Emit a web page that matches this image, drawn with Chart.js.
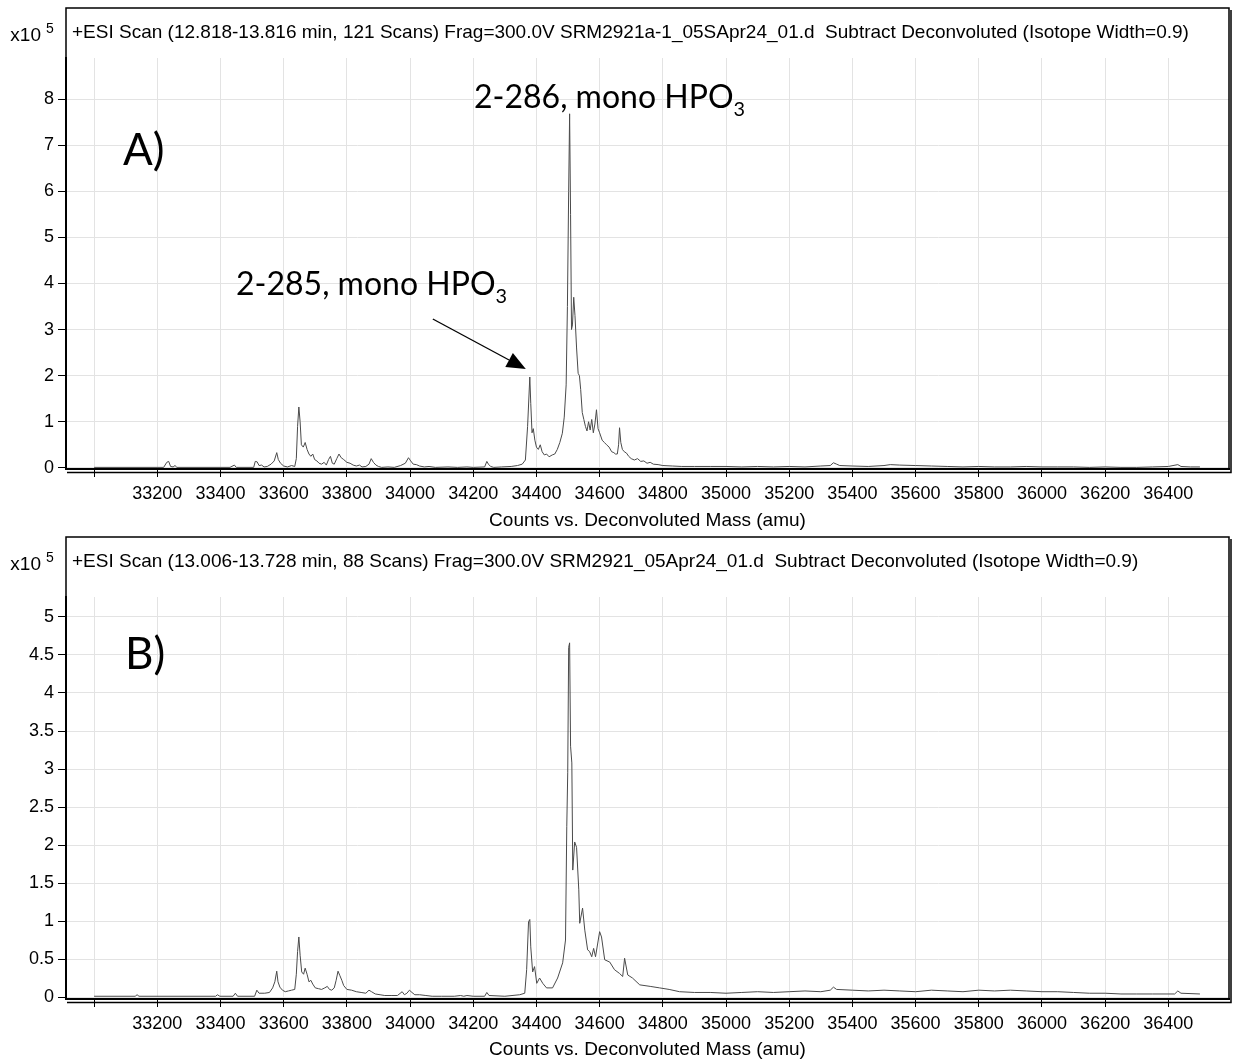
<!DOCTYPE html>
<html><head><meta charset="utf-8">
<script src="https://cdn.jsdelivr.net/npm/chart.js@4.4.1/dist/chart.umd.min.js"></script>
<style>
html,body{margin:0;padding:0;background:#fff;}
#wrap{position:relative;width:1233px;height:1062px;overflow:hidden;}
canvas{position:absolute;left:0;}
.ann{position:absolute;font-family:Lato,"Open Sans",sans-serif;color:#000;white-space:nowrap;line-height:1;}
.ann sub{font-size:0.62em;vertical-align:-0.38em;line-height:0;}
</style></head>
<body><div id="wrap">
<canvas id="cA" width="1233" height="530" style="top:0;width:1233px;height:530px"></canvas>
<canvas id="cB" width="1233" height="532" style="top:530px;width:1233px;height:532px"></canvas>
<div class="ann" style="left:123px;top:126px;font-size:44px;">A)</div>
<div class="ann" style="left:474px;top:80px;font-size:32px;">2-286, mono HPO<sub>3</sub></div>
<div class="ann" style="left:236px;top:267px;font-size:32px;">2-285, mono HPO<sub>3</sub></div>
<div class="ann" style="left:125px;top:630px;font-size:44px;">B)</div>
</div>
<script>
// ---- text ----
const titleA = "+ESI Scan (12.818-13.816 min, 121 Scans) Frag=300.0V SRM2921a-1_05SApr24_01.d  Subtract Deconvoluted (Isotope Width=0.9)";
const titleB = "+ESI Scan (13.006-13.728 min, 88 Scans) Frag=300.0V SRM2921_05Apr24_01.d  Subtract Deconvoluted (Isotope Width=0.9)";
const xAxisTitle = "Counts vs. Deconvoluted Mass (amu)";
const yMultiplier = "x10";
const yExponent = "5";

// ---- tick labels ----
const xTickValues = [33000,33200,33400,33600,33800,34000,34200,34400,34600,34800,35000,35200,35400,35600,35800,36000,36200,36400];
const xTickLabels = ["","33200","33400","33600","33800","34000","34200","34400","34600","34800","35000","35200","35400","35600","35800","36000","36200","36400"];
const yTickValuesA = [0,1,2,3,4,5,6,7,8];
const yTickLabelsA = ["0","1","2","3","4","5","6","7","8"];
const yTickValuesB = [0,0.5,1,1.5,2,2.5,3,3.5,4,4.5,5];
const yTickLabelsB = ["0","0.5","1","1.5","2","2.5","3","3.5","4","4.5","5"];

// ---- spectrum A (mass amu, counts x10^5) ----
const massA = [33000,33220,33230,33236,33242,33250,33256,33262,33430,33444,33450,33505,33510,33516,33522,33530,33538,33548,33560,33570,33578,33583,33590,33600,33612,33625,33635,33640,33644,33648,33652,33656,33662,33668,33674,33680,33686,33692,33698,33705,33712,33720,33728,33735,33742,33748,33754,33760,33768,33775,33782,33790,33800,33810,33820,33830,33840,33848,33860,33870,33877,33884,33892,33900,33910,33930,33950,33970,33985,33995,34002,34010,34020,34030,34045,34060,34080,34120,34150,34180,34200,34236,34243,34248,34255,34265,34290,34320,34340,34355,34365,34372,34379,34382,34386,34390,34395,34400,34406,34412,34418,34425,34432,34440,34450,34458,34466,34474,34482,34488,34494,34498,34502,34505,34508,34511,34514,34518,34522,34527,34532,34536,34540,34545,34550,34555,34560,34565,34570,34575,34580,34585,34590,34595,34600,34608,34615,34622,34630,34638,34645,34650,34656,34660,34663,34667,34672,34678,34685,34692,34700,34710,34720,34730,34740,34750,34760,34770,34785,34800,34830,34860,34900,34950,35000,35050,35100,35150,35200,35250,35300,35330,35340,35350,35360,35400,35450,35500,35520,35550,35600,35650,35700,35750,35800,35850,35900,35950,36000,36050,36100,36150,36200,36250,36300,36350,36400,36430,36440,36470,36500];
const countsA = [0.01,0.01,0.12,0.14,0.03,0.02,0.05,0.01,0.01,0.06,0.01,0.01,0.14,0.13,0.05,0.06,0.02,0.03,0.08,0.15,0.33,0.18,0.10,0.04,0.02,0.05,0.03,0.20,0.90,1.32,1.00,0.50,0.45,0.55,0.40,0.30,0.25,0.30,0.18,0.15,0.10,0.08,0.12,0.06,0.18,0.25,0.10,0.08,0.20,0.30,0.22,0.18,0.12,0.10,0.06,0.04,0.06,0.02,0.03,0.08,0.20,0.12,0.06,0.03,0.01,0.02,0.01,0.05,0.10,0.22,0.15,0.08,0.07,0.04,0.02,0.03,0.01,0.02,0.01,0.02,0.01,0.02,0.14,0.08,0.03,0.01,0.02,0.03,0.05,0.08,0.17,0.90,1.97,1.40,0.76,0.85,0.60,0.45,0.40,0.50,0.35,0.28,0.30,0.24,0.28,0.30,0.40,0.55,0.75,1.10,1.80,3.50,6.00,7.68,5.50,3.00,3.10,3.70,3.30,2.60,2.05,2.00,1.70,1.20,1.05,0.90,0.80,1.00,0.82,1.05,0.76,0.95,1.26,0.85,0.76,0.60,0.55,0.50,0.45,0.35,0.33,0.30,0.30,0.50,0.87,0.55,0.40,0.35,0.32,0.25,0.20,0.17,0.20,0.14,0.15,0.10,0.12,0.08,0.07,0.05,0.04,0.03,0.03,0.03,0.03,0.02,0.03,0.02,0.03,0.02,0.04,0.05,0.11,0.08,0.05,0.04,0.03,0.05,0.07,0.06,0.05,0.04,0.03,0.02,0.03,0.02,0.02,0.03,0.02,0.02,0.02,0.01,0.02,0.01,0.01,0.02,0.03,0.07,0.03,0.02,0.02];

// ---- spectrum B (mass amu, counts x10^5) ----
const massB = [33000,33130,33136,33142,33385,33390,33398,33440,33447,33454,33508,33515,33522,33540,33555,33565,33572,33578,33582,33588,33596,33605,33615,33625,33635,33640,33644,33648,33652,33657,33663,33668,33674,33680,33686,33692,33700,33710,33720,33730,33738,33745,33752,33760,33766,33772,33778,33784,33790,33800,33815,33830,33845,33860,33870,33878,33890,33905,33920,33940,33960,33975,33982,33990,33998,34006,34015,34030,34050,34070,34100,34140,34160,34170,34180,34200,34236,34243,34250,34300,34347,34363,34369,34375,34379,34382,34388,34394,34401,34410,34420,34432,34451,34467,34483,34492,34496,34499,34502,34505,34508,34512,34515,34521,34527,34534,34537,34546,34553,34562,34568,34575,34581,34587,34600,34606,34616,34632,34647,34663,34673,34679,34689,34704,34727,34760,34790,34820,34853,34900,34950,35000,35050,35100,35150,35200,35250,35300,35330,35340,35350,35400,35450,35500,35550,35600,35650,35700,35750,35800,35850,35900,35950,36000,36050,36100,36150,36200,36250,36300,36350,36420,36430,36440,36500];
const countsB = [0.01,0.01,0.03,0.01,0.01,0.03,0.01,0.01,0.05,0.01,0.01,0.09,0.05,0.05,0.06,0.12,0.20,0.34,0.20,0.13,0.09,0.07,0.08,0.09,0.10,0.30,0.60,0.79,0.55,0.33,0.30,0.38,0.30,0.20,0.22,0.17,0.12,0.11,0.10,0.12,0.14,0.10,0.09,0.12,0.22,0.34,0.28,0.22,0.15,0.10,0.09,0.07,0.06,0.05,0.09,0.07,0.04,0.03,0.02,0.02,0.02,0.07,0.03,0.05,0.09,0.06,0.03,0.03,0.02,0.01,0.01,0.01,0.02,0.01,0.02,0.01,0.01,0.06,0.02,0.01,0.03,0.05,0.36,0.99,1.02,0.66,0.33,0.40,0.18,0.25,0.18,0.12,0.12,0.25,0.45,0.75,2.24,2.95,4.60,4.66,3.30,3.08,1.67,2.04,1.97,1.41,0.97,1.17,0.88,0.62,0.60,0.53,0.64,0.53,0.86,0.79,0.49,0.46,0.36,0.31,0.27,0.51,0.29,0.25,0.16,0.14,0.12,0.10,0.07,0.06,0.06,0.05,0.06,0.07,0.06,0.07,0.08,0.07,0.09,0.13,0.10,0.09,0.08,0.09,0.08,0.07,0.09,0.08,0.07,0.09,0.08,0.09,0.08,0.07,0.07,0.06,0.05,0.05,0.04,0.04,0.04,0.04,0.08,0.05,0.04];

// annotation arrow target (data coords of the 2-285 peak in A)
const arrowTargetA = [34379, 1.97];

const FONT = '"Liberation Sans", Arial, sans-serif';

const framePlugin = {
  id: 'frame',
  afterDraw(chart, args, o) {
    const {ctx, chartArea: a} = chart;
    ctx.save();
    ctx.strokeStyle = '#000';
    ctx.lineWidth = 1.5;
    ctx.beginPath();
    ctx.moveTo(a.left, a.bottom); ctx.lineTo(a.left, o.top);
    ctx.lineTo(a.right, o.top); ctx.lineTo(a.right, a.bottom);
    ctx.stroke();
    ctx.beginPath();
    ctx.moveTo(a.right + 2, o.top + 2); ctx.lineTo(a.right + 2, a.bottom + 3.5); ctx.lineTo(a.left + 1, a.bottom + 3.5);
    ctx.stroke();
    ctx.fillStyle = '#000';
    ctx.textBaseline = 'middle';
    ctx.textAlign = 'left';
    ctx.font = '19px ' + FONT;
    ctx.fillText(o.title, a.left + 6, o.titleY);
    ctx.textAlign = 'right';
    ctx.font = '19px ' + FONT;
    ctx.fillText(yMultiplier, 41, o.titleY + 3);
    ctx.textAlign = 'left';
    ctx.font = '14px ' + FONT;
    ctx.fillText(yExponent, 46, o.titleY - 4);
    if (o.arrow) {
      const px = chart.scales.x.getPixelForValue(o.arrow[0]);
      const py = chart.scales.y.getPixelForValue(o.arrow[1]);
      const tx = px - 4, ty = py - 8;
      const sx = tx - 93, sy = ty - 50;
      const ang = Math.atan2(ty - sy, tx - sx);
      const hl = 19, hw = 8;
      const bx = tx - hl * Math.cos(ang), by = ty - hl * Math.sin(ang);
      ctx.lineWidth = 1.3;
      ctx.beginPath(); ctx.moveTo(sx, sy); ctx.lineTo(bx, by); ctx.stroke();
      ctx.beginPath();
      ctx.moveTo(tx, ty);
      ctx.lineTo(bx + hw * Math.sin(ang), by - hw * Math.cos(ang));
      ctx.lineTo(bx - hw * Math.sin(ang), by + hw * Math.cos(ang));
      ctx.closePath(); ctx.fill();
    }
    ctx.restore();
  }
};

function makeChart(id, mass, counts, yVals, yLabels, yMin, yMax, cfg) {
  const pts = mass.map((m, i) => ({x: m, y: counts[i]}));
  return new Chart(document.getElementById(id), {
    type: 'line',
    data: {datasets: [{data: pts, borderColor: '#4a4a4a', borderWidth: 1, pointRadius: 0, tension: 0, fill: false}]},
    plugins: [framePlugin],
    options: {
      responsive: false, animation: false, devicePixelRatio: 1,
      layout: {padding: {left: 0, right: 4, top: cfg.plotTop, bottom: 0}},
      plugins: {legend: {display: false}, tooltip: {enabled: false},
        frame: {top: cfg.frameTop, titleY: cfg.titleY, title: cfg.title, arrow: cfg.arrow}},
      scales: {
        x: {
          type: 'linear', min: 32911, max: 36592,
          afterBuildTicks: s => { s.ticks = xTickValues.map(v => ({value: v})); },
          afterFit: s => { s.height = cfg.xHeight; },
          ticks: {autoSkip: false, maxRotation: 0, padding: 6, color: '#000',
            font: {family: FONT, size: 18},
            callback: v => { const i = xTickValues.indexOf(v); return i >= 0 ? xTickLabels[i] : ''; }},
          grid: {color: '#e3e3e3', lineWidth: 1, tickColor: '#000', tickLength: 8, drawTicks: true},
          border: {color: '#000', width: 2},
          title: {display: true, text: xAxisTitle, color: '#000', font: {family: FONT, size: 19, lineHeight: 1}, padding: {top: 0, bottom: cfg.titlePadB}}
        },
        y: {
          type: 'linear', min: yMin, max: yMax,
          afterBuildTicks: s => { s.ticks = yVals.map(v => ({value: v})); },
          afterFit: s => { s.width = 66; },
          ticks: {padding: 4, color: '#000', font: {family: FONT, size: 18},
            callback: v => { const i = yVals.indexOf(v); return i >= 0 ? yLabels[i] : ''; }},
          grid: {color: '#e3e3e3', lineWidth: 1, tickColor: '#000', tickLength: 8},
          border: {color: '#000', width: 2}
        }
      }
    }
  });
}

makeChart('cA', massA, countsA, yTickValuesA, yTickLabelsA, -0.025, 8.89,
  {plotTop: 58, frameTop: 8, titleY: 33, title: titleA, xHeight: 61, titlePadB: 0, arrow: arrowTargetA});
makeChart('cB', massB, countsB, yTickValuesB, yTickLabelsB, -0.026, 5.263,
  {plotTop: 67, frameTop: 7, titleY: 32, title: titleB, xHeight: 63, titlePadB: 2.5, arrow: null});
</script>
</body></html>
